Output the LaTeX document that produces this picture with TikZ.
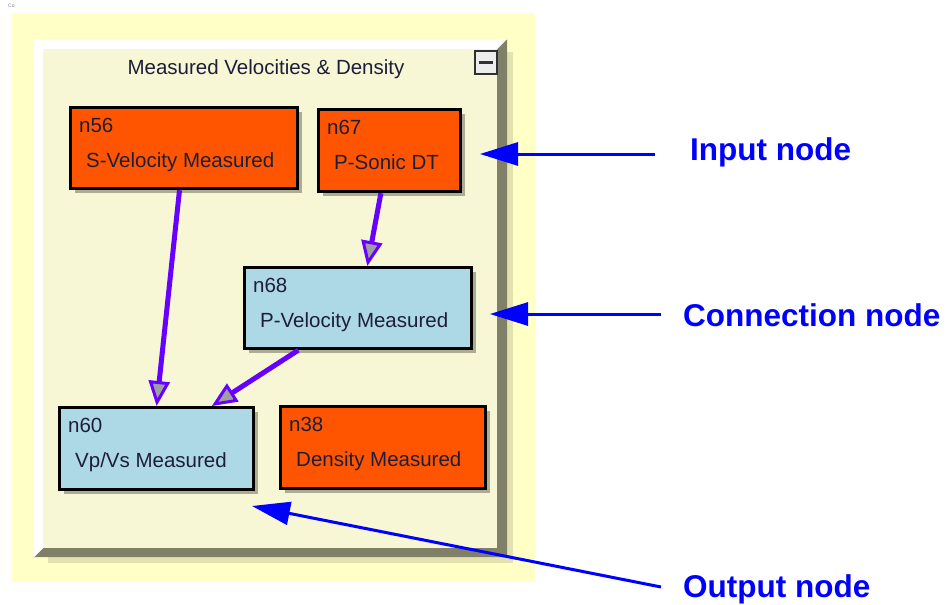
\documentclass[tikz,border=0pt]{standalone}
\usepackage{fontspec}
\setmainfont{Liberation Sans}
\usetikzlibrary{arrows.meta,calc,shadows}
\definecolor{outerY}{HTML}{FFFFC6}
\definecolor{panelC}{HTML}{F7F7D6}
\definecolor{bevelG}{HTML}{808068}
\definecolor{softG}{HTML}{CFCFA0}
\definecolor{inOrange}{HTML}{FF5500}
\definecolor{connBlue}{HTML}{ADD8E6}
\definecolor{flowPurple}{HTML}{6600FF}
\definecolor{noteBlue}{HTML}{0000FF}
\definecolor{txtDark}{HTML}{1E1E3A}
\definecolor{btnFill}{HTML}{EDEDED}
\definecolor{btnLine}{HTML}{303030}
\newcommand\boxtext[3]{%
  \node[nodetxt] (#1id) at ($(#1.north west)+(10,26)$) {#2};
  \node[nodetxt] (#1lbl) at ($(#1.north west)+(17,61)$) {#3};}
\begin{document}
\begin{tikzpicture}[x=1pt,y=-1pt,
  gnode/.style={draw=black, line width=3.2pt, rectangle, anchor=north west, inner sep=0pt,
    drop shadow={shadow xshift=4pt, shadow yshift=-4pt, fill=black, opacity=0.3}},
  nodetxt/.style={anchor=base west, inner sep=0pt, text=txtDark, font=\fontsize{20.5}{24}\selectfont},
  flow/.style={draw=flowPurple, line width=5pt,
    -{Triangle[length=25pt,width=21pt,fill=gray!75,line width=3pt]}},
  note/.style={draw=noteBlue, line width=3pt, -{Triangle[length=38pt,width=23pt]}},
  notetxt/.style={anchor=west, inner sep=0pt, text=noteBlue, font=\fontsize{31.5}{36}\selectfont\bfseries},
]
\useasboundingbox (0,0) rectangle (946,605);
\fill[white] (0,0) rectangle (946,605);
% tiny text top-left
\node[anchor=base west, inner sep=0pt, text=gray, font=\fontsize{5}{6}\selectfont] (tiny) at (8,7) {Co};
% outer yellow area
\fill[outerY] (12,13) rectangle (535,582);
% soft shadow
\fill[softG, opacity=0.6] (48,52) rectangle (513,563);
% bevel gray (right & bottom)
\fill[bevelG] (34,557) -- (43,548) -- (497,548) -- (497,49) -- (507,39) -- (507,557) -- cycle;
% white bevel (top & left)
\fill[white] (34,39) -- (507,39) -- (497,49) -- (43,49) -- (43,548) -- (34,557) -- cycle;
% panel
\fill[panelC] (43,49) rectangle (497,548);
% title
\node[anchor=base, inner sep=0pt, text=txtDark, font=\fontsize{20.5}{24}\selectfont] (title) at (266,74) {Measured Velocities \& Density};
% minimize button
\node[draw=btnLine, fill=btnFill, line width=2pt, anchor=north west, inner sep=0pt,
  minimum width=22pt, minimum height=23pt] (btn) at (474,50) {};
\draw[btnLine, line width=3pt] ($(btn.west)+(5,0)$) -- ($(btn.east)+(-5,0)$);
% graph nodes
\node[gnode, fill=inOrange, minimum width=227pt, minimum height=81pt] (n56) at (69,106) {};
\node[gnode, fill=inOrange, minimum width=142pt, minimum height=82pt] (n67) at (317,108) {};
\node[gnode, fill=connBlue, minimum width=227pt, minimum height=81pt] (n68) at (243,266) {};
\node[gnode, fill=connBlue, minimum width=194pt, minimum height=82pt] (n60) at (58,406) {};
\node[gnode, fill=inOrange, minimum width=205pt, minimum height=82pt] (n38) at (279,405) {};
\boxtext{n56}{n56}{S-Velocity Measured}
\boxtext{n67}{n67}{P-Sonic DT}
\boxtext{n68}{n68}{P-Velocity Measured}
\boxtext{n60}{n60}{Vp/Vs Measured}
\boxtext{n38}{n38}{Density Measured}
% flow connectors
\draw[flow] ($(n56.south west)!0.48!(n56.south east)$) -- (n60.north);
\draw[flow] ($(n67.south west)!0.44!(n67.south east)$) -- ($(n68.north west)!0.54!(n68.north east)$);
\draw[flow] ($(n68.south west)!0.24!(n68.south east)$) -- ($(n60.north west)!0.78!(n60.north east)$);
% annotations
\node[notetxt] (lin) at (690,152) {Input node};
\node[notetxt] (lconn) at (683,315) {Connection node};
\node[notetxt] (lout) at (683,589) {Output node};
\coordinate (inS) at (655,154);
\coordinate (inT) at (480,154);
\coordinate (coS) at (661,314);
\coordinate (coT) at (490,314);
\coordinate (ouS) at (661,587);
\coordinate (ouT) at (252,506);
\draw[note] (inS) -- (inT);
\draw[note] (coS) -- (coT);
\draw[note] (ouS) -- (ouT);
\end{tikzpicture}
\end{document}
